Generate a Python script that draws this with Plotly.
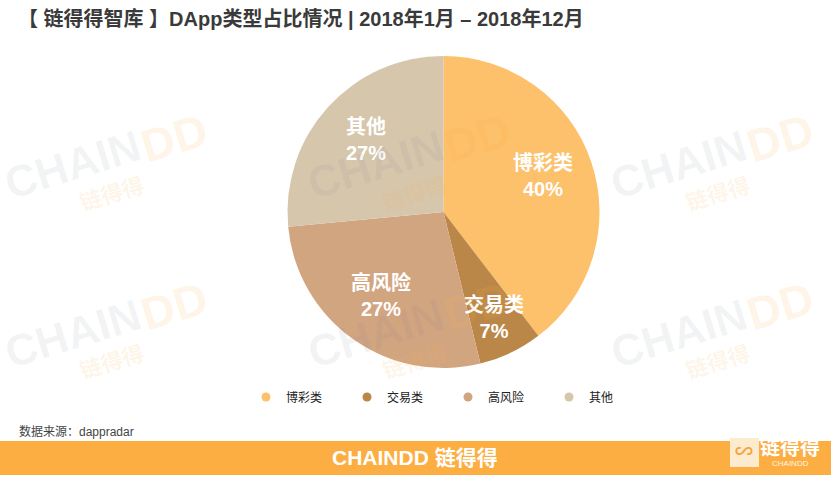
import plotly.graph_objects as go

W, H = 831, 477

categories = ["博彩类", "交易类", "高风险", "其他"]
values = [39.6, 6.6, 27.3, 26.5]
shown_pct = ["40%", "7%", "27%", "27%"]
colors = ["#FDC06B", "#BA8748", "#D2A581", "#D6C6AC"]

title = "【 链得得智库 】DApp类型占比情况 | 2018年1月 – 2018年12月"
source = "数据来源：dappradar"

FONT = "Liberation Sans, Noto Sans CJK SC, sans-serif"

# where the slice captions sit, in pixels of the picture
caption_x = [543, 494, 381, 366]
caption_y = [176, 317, 295, 140]


def px(x):
    return x / W


def py(y):
    return 1 - y / H


def label(x, y, text, size, color, bold=False, angle=0, anchor="center", family=FONT):
    if bold:
        text = f"<b>{text}</b>"
    return dict(x=px(x), y=py(y), xref="paper", yref="paper", text=text, showarrow=False,
                xanchor=anchor, yanchor="middle", textangle=angle,
                font=dict(size=size, color=color, family=family))


fig = go.Figure()

# pie centre is about (443.5, 212), radius 156
fig.add_trace(go.Pie(
    labels=categories,
    values=values,
    textinfo="none",
    marker=dict(colors=colors, line=dict(width=0)),
    sort=False,
    direction="clockwise",
    rotation=0,
    showlegend=False,
    hoverinfo="label+percent",
    domain=dict(x=[px(287.5), px(599.5)], y=[py(368), py(56)]),
))

# empty traces so the legend gets round markers
for name, color in zip(categories, colors):
    fig.add_trace(go.Scatter(x=[None], y=[None], mode="markers", name=name,
                             marker=dict(color=color, size=9, symbol="circle")))

annotations = [
    label(16, 19, title, 20, "#3A3A3A", bold=True, anchor="left"),
    label(17, 431, source, 12, "#444444", anchor="left"),
    label(415, 457, "CHAINDD 链得得", 21, "white", bold=True),
    label(790, 448, "链得得", 20, "white", bold=True),
    label(790, 463, "CHAINDD", 8, "#FFF3E0"),
    label(744, 452, "∽", 18, "#F5A53A", bold=True),
]

for name, pct, cx, cy in zip(categories, shown_pct, caption_x, caption_y):
    annotations.append(label(cx, cy, f"{name}<br>{pct}", 20, "white", bold=True))

# tiled watermark
for wx in (105, 408, 711):
    for wy in (150, 318):
        annotations.append(label(wx - 33, wy + 15, "CHAIN", 44, "rgba(120,130,140,0.09)", bold=True, angle=-17))
        annotations.append(label(wx + 69, wy - 12, "DD", 46, "rgba(253,174,66,0.13)", bold=True, angle=-17))
        annotations.append(label(wx + 7, wy + 44, "链得得", 22, "rgba(253,174,66,0.13)", bold=True, angle=-17))

shapes = [
    dict(type="rect", xref="paper", yref="paper", x0=0, x1=1, y0=py(475), y1=py(441),
         fillcolor="#FDAE42", line=dict(width=0), layer="below"),
    dict(type="rect", xref="paper", yref="paper", x0=px(730), x1=px(759), y0=py(467), y1=py(438),
         fillcolor="#FDEBD0", line=dict(width=0), layer="below"),
]

fig.update_layout(
    width=W,
    height=H,
    margin=dict(l=0, r=0, t=0, b=0),
    paper_bgcolor="white",
    plot_bgcolor="rgba(0,0,0,0)",
    font=dict(family=FONT, color="#222222"),
    xaxis=dict(visible=False),
    yaxis=dict(visible=False),
    legend=dict(orientation="h", x=px(246), y=py(397), xanchor="left", yanchor="middle",
                entrywidth=56, entrywidthmode="pixels", font=dict(size=12, color="#222222"),
                bgcolor="rgba(0,0,0,0)", itemclick=False, itemdoubleclick=False),
    annotations=annotations,
    shapes=shapes,
)

fig.write_html("out.html", config=dict(displayModeBar=False),
               post_script="document.body.style.margin='0';")
